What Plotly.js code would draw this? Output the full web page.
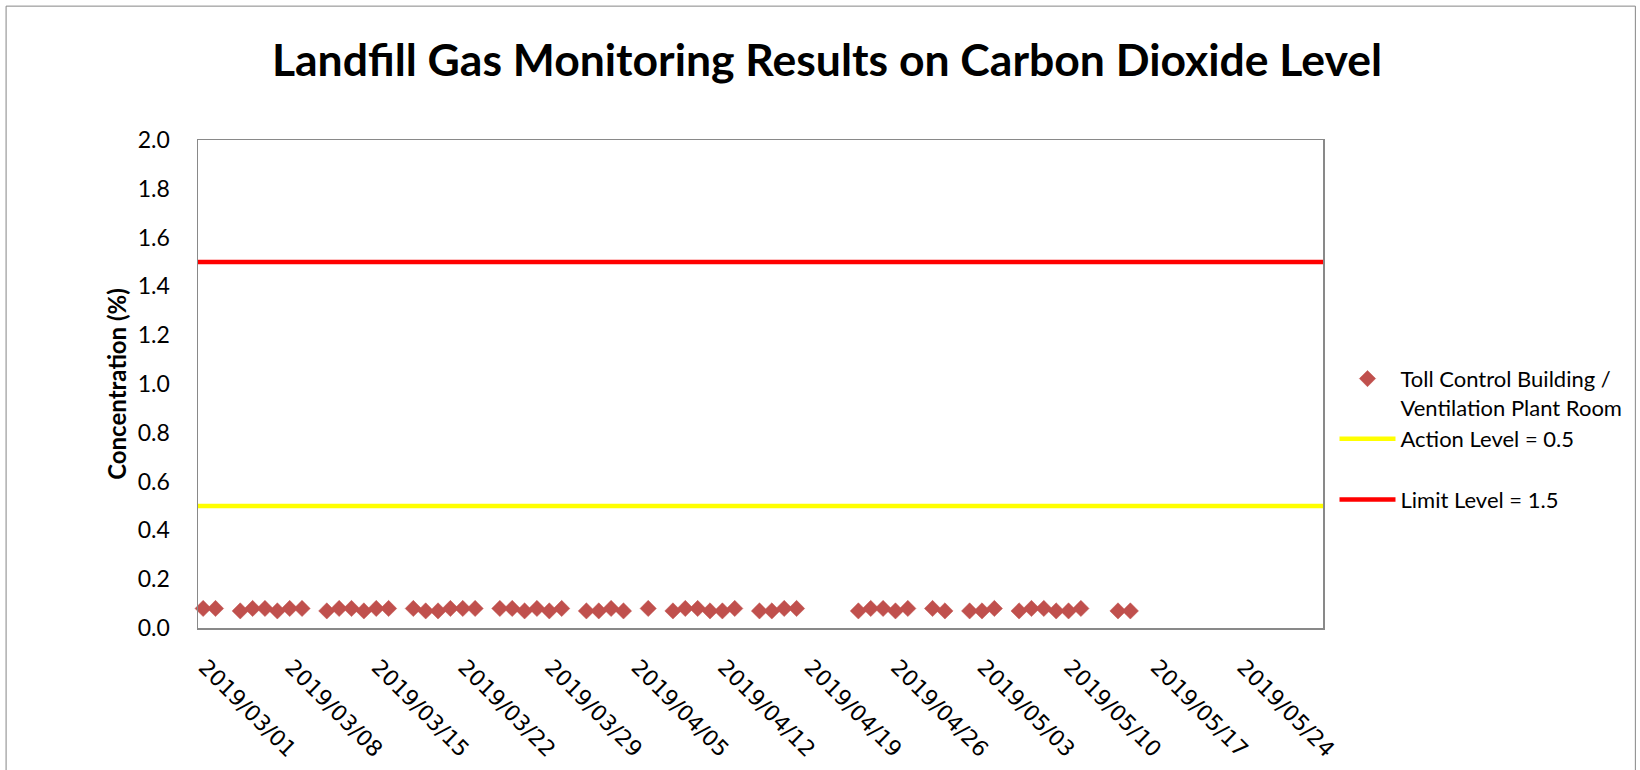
<!DOCTYPE html>
<html>
<head>
<meta charset="utf-8">
<script src="https://cdn.plot.ly/plotly-3.0.1.min.js"></script>
<style>
  html, body { margin: 0; padding: 0; background: #ffffff; }
  #chart { width: 1640px; height: 770px; }
</style>
</head>
<body>
<div id="chart"></div>
<script>
// ---- data ----
const sampleDates = [
  "2019-03-01 10:00", "2019-03-02 10:00",
  "2019-03-04 10:00", "2019-03-05 10:00", "2019-03-06 10:00", "2019-03-07 10:00", "2019-03-08 10:00", "2019-03-09 10:00",
  "2019-03-11 10:00", "2019-03-12 10:00", "2019-03-13 10:00", "2019-03-14 10:00", "2019-03-15 10:00", "2019-03-16 10:00",
  "2019-03-18 10:00", "2019-03-19 10:00", "2019-03-20 10:00", "2019-03-21 10:00", "2019-03-22 10:00", "2019-03-23 10:00",
  "2019-03-25 10:00", "2019-03-26 10:00", "2019-03-27 10:00", "2019-03-28 10:00", "2019-03-29 10:00", "2019-03-30 10:00",
  "2019-04-01 10:00", "2019-04-02 10:00", "2019-04-03 10:00", "2019-04-04 10:00",
  "2019-04-06 10:00",
  "2019-04-08 10:00", "2019-04-09 10:00", "2019-04-10 10:00", "2019-04-11 10:00", "2019-04-12 10:00", "2019-04-13 10:00",
  "2019-04-15 10:00", "2019-04-16 10:00", "2019-04-17 10:00", "2019-04-18 10:00",
  "2019-04-23 10:00", "2019-04-24 10:00", "2019-04-25 10:00", "2019-04-26 10:00", "2019-04-27 10:00",
  "2019-04-29 10:00", "2019-04-30 10:00",
  "2019-05-02 10:00", "2019-05-03 10:00", "2019-05-04 10:00",
  "2019-05-06 10:00", "2019-05-07 10:00", "2019-05-08 10:00", "2019-05-09 10:00", "2019-05-10 10:00", "2019-05-11 10:00",
  "2019-05-14 10:00", "2019-05-15 10:00"
];
const co2Values = [
  0.08, 0.08,
  0.07, 0.08, 0.08, 0.07, 0.08, 0.08,
  0.07, 0.08, 0.08, 0.07, 0.08, 0.08,
  0.08, 0.07, 0.07, 0.08, 0.08, 0.08,
  0.08, 0.08, 0.07, 0.08, 0.07, 0.08,
  0.07, 0.07, 0.08, 0.07,
  0.08,
  0.07, 0.08, 0.08, 0.07, 0.07, 0.08,
  0.07, 0.07, 0.08, 0.08,
  0.07, 0.08, 0.08, 0.07, 0.08,
  0.08, 0.07,
  0.07, 0.07, 0.08,
  0.07, 0.08, 0.08, 0.07, 0.07, 0.08,
  0.07, 0.07
];
const axisStart = "2019-03-01";
const axisEnd = "2019-05-31";
const tickDates = ["2019-03-01", "2019-03-08", "2019-03-15", "2019-03-22", "2019-03-29", "2019-04-05",
  "2019-04-12", "2019-04-19", "2019-04-26", "2019-05-03", "2019-05-10", "2019-05-17", "2019-05-24"];
const tickLabels = ["2019/03/01", "2019/03/08", "2019/03/15", "2019/03/22", "2019/03/29", "2019/04/05",
  "2019/04/12", "2019/04/19", "2019/04/26", "2019/05/03", "2019/05/10", "2019/05/17", "2019/05/24"];
const actionLevel = 0.5;
const limitLevel = 1.5;
const seriesNames = ["Toll Control Building /<br>Ventilation Plant Room", "Action Level = 0.5", "Limit Level = 1.5"];

// ---- chart ----
const plotL = 198, plotR = 1323.5, plotT = 140, plotB = 628.5;
const W = 1640, H = 770;
const pw = plotR - plotL, ph = plotB - plotT;
const px = v => (v - plotL) / pw;
const py = v => (plotB - v) / ph;

const traces = [
  {
    type: "scatter", mode: "markers", name: seriesNames[0],
    x: sampleDates, y: co2Values,
    marker: { symbol: "diamond", size: 12.5, color: "#C0504D", line: { width: 0.5, color: "#C0504D" } },
    legendgroup: "a", cliponaxis: false
  },
  {
    type: "scatter", mode: "lines", name: seriesNames[1],
    x: [axisStart, axisEnd], y: [actionLevel, actionLevel],
    line: { color: "#FFFF00", width: 4.5 }, legendgroup: "a"
  },
  {
    type: "scatter", mode: "lines", name: seriesNames[2],
    x: [axisStart, axisEnd], y: [limitLevel, limitLevel],
    line: { color: "#FF0000", width: 4.5 }, legendgroup: "b"
  }
];

const layout = {
  width: W, height: H,
  margin: { l: plotL, r: W - plotR, t: plotT, b: H - plotB, pad: 0 },
  paper_bgcolor: "#ffffff", plot_bgcolor: "#ffffff",
  font: { family: "Lato, 'Noto Sans', sans-serif", color: "#000000" },
  title: {
    text: "<b>Landfill Gas Monitoring Results on Carbon Dioxide Level</b>",
    font: { family: "Lato, sans-serif", size: 44.5, color: "#000000" },
    x: 827 / W, xanchor: "center", y: 1 - 60 / H, yanchor: "middle", yref: "container"
  },
  xaxis: {
    type: "date", range: [axisStart, axisEnd],
    tickmode: "array", tickvals: tickDates, ticktext: tickLabels,
    tickangle: 45, ticks: "", ticklabelstandoff: 16, ticklabelshift: 7,
    tickfont: { family: "'DejaVu Sans', sans-serif", size: 22, color: "#000000" },
    showgrid: false, zeroline: false,
    showline: true, linecolor: "#898989", linewidth: 1.5, mirror: true
  },
  yaxis: {
    range: [0, 2.0], dtick: 0.2, tick0: 0, tickformat: ".1f",
    ticks: "", ticklabelstandoff: 22,
    tickfont: { family: "Lato, sans-serif", size: 23, color: "#000000" },
    title: { text: "<b>Concentration (%)</b>", font: { family: "Lato, sans-serif", size: 24, color: "#000000" }, standoff: 4 },
    showgrid: false, zeroline: false,
    showline: true, linecolor: "#898989", linewidth: 1.5, mirror: true
  },
  showlegend: true,
  legend: {
    x: px(1335), xanchor: "left", y: py(358), yanchor: "top",
    font: { family: "Lato, sans-serif", size: 22, color: "#000000" },
    bgcolor: "rgba(0,0,0,0)", borderwidth: 0,
    valign: "top", tracegroupgap: 29, itemwidth: 56, traceorder: "grouped"
  },
  shapes: [
    {
      type: "rect", xref: "paper", yref: "paper",
      x0: px(6), x1: px(1636), y0: py(790), y1: py(6),
      line: { color: "#868686", width: 1 }, fillcolor: "rgba(0,0,0,0)", layer: "below"
    }
  ]
};

Plotly.newPlot("chart", traces, layout, { displayModeBar: false, staticPlot: true });
</script>
</body>
</html>
